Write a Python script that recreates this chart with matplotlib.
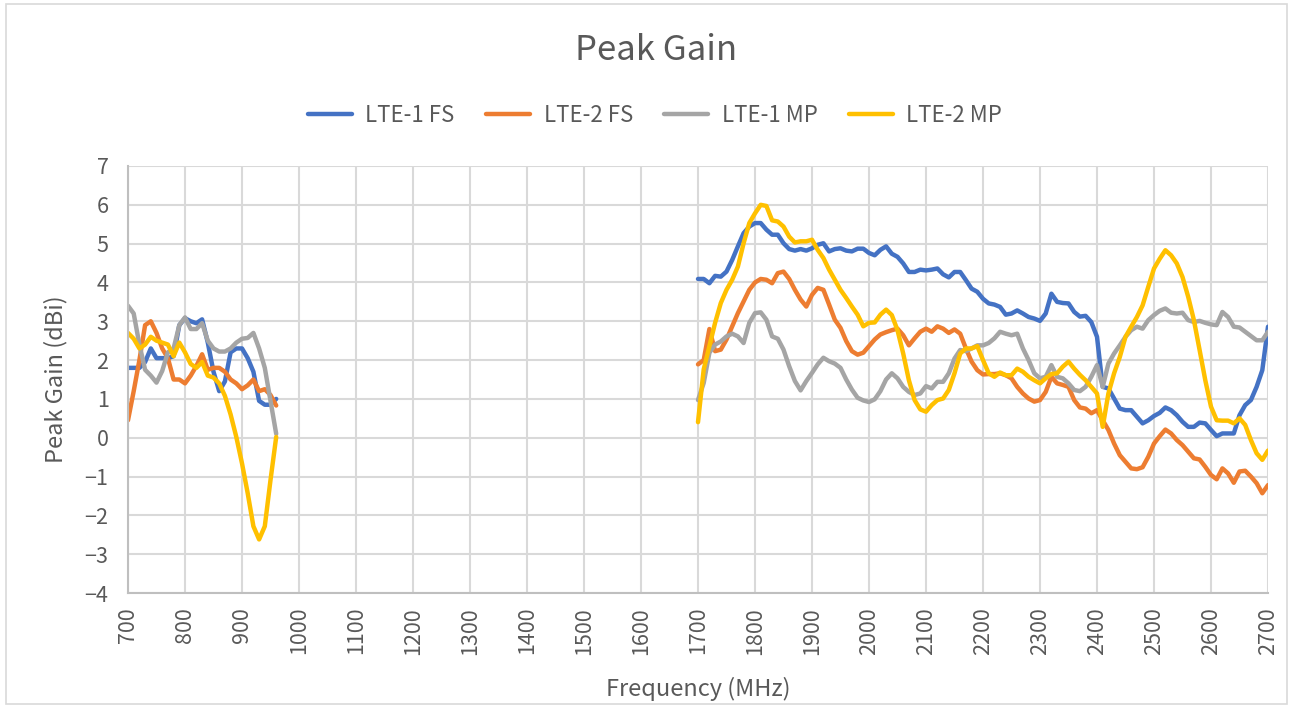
import matplotlib.pyplot as plt
import matplotlib.patches as mpatches
import numpy as np

plt.rcParams['font.family'] = ['Noto Sans CJK SC', 'DejaVu Sans']
plt.rcParams['font.weight'] = 'light'

# frequency grid (MHz)
freq_low = np.arange(700, 961, 10)
freq_high = np.arange(1700, 2701, 10)

# low band 700-960 MHz
lte1_fs_low = [1.80, 1.80, 1.80, 1.95, 2.30, 2.05, 2.05, 2.05, 2.10, 2.90,
               3.08, 3.00, 2.95, 3.05, 2.45, 1.70, 1.20, 1.45, 2.20, 2.30,
               2.30, 2.05, 1.70, 0.95, 0.85, 0.85, 1.00]
lte2_fs_low = [0.45, 1.20, 2.00, 2.90, 3.00, 2.70, 2.30, 2.05, 1.50, 1.50,
               1.40, 1.60, 1.85, 2.15, 1.75, 1.80, 1.80, 1.70, 1.50, 1.40,
               1.25, 1.35, 1.50, 1.20, 1.25, 1.10, 0.83]
lte1_mp_low = [3.40, 3.20, 2.40, 1.75, 1.60, 1.42, 1.72, 2.20, 2.30, 2.90,
               3.10, 2.80, 2.80, 2.95, 2.50, 2.30, 2.22, 2.22, 2.30, 2.45,
               2.55, 2.57, 2.70, 2.30, 1.80, 0.95, 0.10]
lte2_mp_low = [2.70, 2.55, 2.30, 2.40, 2.60, 2.50, 2.45, 2.40, 2.10, 2.45,
               2.20, 1.90, 1.80, 1.95, 1.60, 1.55, 1.40, 1.08, 0.60, 0.02,
               -0.66, -1.43, -2.28, -2.62, -2.28, -1.09, 0.02]

# high band 1700-2700 MHz
lte1_fs_high = [4.09, 4.09, 3.98, 4.17, 4.15, 4.28, 4.58, 4.93, 5.27, 5.44,
                5.53, 5.53, 5.36, 5.23, 5.23, 5.01, 4.86, 4.82, 4.86, 4.82,
                4.88, 4.97, 5.01, 4.80, 4.86, 4.88, 4.82, 4.80, 4.87, 4.87,
                4.76, 4.70, 4.84, 4.93, 4.74, 4.66, 4.49, 4.27, 4.27, 4.33,
                4.31, 4.33, 4.36, 4.21, 4.13, 4.27, 4.27, 4.06, 3.84, 3.76,
                3.58, 3.46, 3.43, 3.37, 3.17, 3.20, 3.28, 3.20, 3.11, 3.07,
                3.01, 3.20, 3.71, 3.50, 3.47, 3.46, 3.24, 3.12, 3.14, 2.98,
                2.60, 1.31, 1.27, 1.01, 0.75, 0.71, 0.71, 0.54, 0.37, 0.45,
                0.56, 0.64, 0.78, 0.71, 0.58, 0.41, 0.28, 0.28, 0.39, 0.37,
                0.20, 0.04, 0.11, 0.11, 0.11, 0.58, 0.84, 0.97, 1.31, 1.74,
                2.86]
lte2_fs_high = [1.89, 2.00, 2.80, 2.23, 2.27, 2.53, 2.87, 3.21, 3.51, 3.81,
                4.00, 4.09, 4.07, 3.98, 4.24, 4.28, 4.09, 3.81, 3.56, 3.38,
                3.68, 3.86, 3.81, 3.43, 3.04, 2.83, 2.49, 2.23, 2.14, 2.19,
                2.36, 2.53, 2.66, 2.72, 2.77, 2.81, 2.64, 2.38, 2.56, 2.73,
                2.81, 2.73, 2.87, 2.81, 2.70, 2.79, 2.68, 2.30, 1.96, 1.74,
                1.63, 1.64, 1.64, 1.66, 1.61, 1.53, 1.31, 1.14, 1.01, 0.93,
                0.97, 1.18, 1.57, 1.40, 1.36, 1.31, 0.97, 0.78, 0.75, 0.63,
                0.71, 0.45, 0.20, -0.15, -0.45, -0.62, -0.79, -0.81, -0.76, -0.49,
                -0.15, 0.04, 0.21, 0.11, -0.06, -0.19, -0.36, -0.53, -0.56, -0.75,
                -0.96, -1.07, -0.79, -0.92, -1.16, -0.87, -0.85, -1.00, -1.17, -1.43,
                -1.22]
lte1_mp_high = [0.97, 1.41, 2.19, 2.40, 2.48, 2.61, 2.68, 2.61, 2.44, 2.96,
                3.21, 3.23, 3.04, 2.61, 2.55, 2.27, 1.84, 1.46, 1.22, 1.46,
                1.67, 1.89, 2.06, 1.97, 1.91, 1.80, 1.50, 1.24, 1.03, 0.96,
                0.92, 0.99, 1.20, 1.50, 1.66, 1.53, 1.31, 1.18, 1.10, 1.14,
                1.33, 1.27, 1.44, 1.44, 1.66, 2.04, 2.26, 2.23, 2.30, 2.38,
                2.38, 2.44, 2.56, 2.73, 2.68, 2.64, 2.68, 2.30, 2.00, 1.66,
                1.53, 1.57, 1.87, 1.57, 1.53, 1.40, 1.23, 1.20, 1.31, 1.57,
                1.87, 1.31, 1.91, 2.17, 2.38, 2.60, 2.77, 2.86, 2.81, 3.03,
                3.16, 3.27, 3.33, 3.22, 3.20, 3.22, 3.03, 2.98, 3.01, 2.96,
                2.92, 2.90, 3.24, 3.11, 2.86, 2.84, 2.73, 2.62, 2.51, 2.51,
                2.73]
lte2_mp_high = [0.40, 1.76, 2.36, 2.96, 3.47, 3.81, 4.07, 4.41, 5.01, 5.53,
                5.78, 6.00, 5.97, 5.60, 5.57, 5.44, 5.18, 5.03, 5.06, 5.06,
                5.10, 4.84, 4.63, 4.33, 4.07, 3.81, 3.60, 3.38, 3.17, 2.87,
                2.96, 2.97, 3.17, 3.30, 3.16, 2.77, 2.17, 1.48, 0.97, 0.73,
                0.67, 0.84, 0.97, 1.01, 1.23, 1.66, 2.17, 2.30, 2.30, 2.36,
                2.00, 1.66, 1.57, 1.68, 1.61, 1.61, 1.78, 1.70, 1.57, 1.48,
                1.40, 1.53, 1.64, 1.66, 1.83, 1.96, 1.78, 1.62, 1.48, 1.31,
                1.14, 0.28, 1.14, 1.66, 2.08, 2.60, 2.86, 3.11, 3.41, 3.89,
                4.36, 4.61, 4.83, 4.70, 4.49, 4.14, 3.63, 3.03, 2.26, 1.48,
                0.80, 0.45, 0.44, 0.44, 0.37, 0.50, 0.33, -0.06, -0.40, -0.57,
                -0.33]

labels = ['LTE-1 FS', 'LTE-2 FS', 'LTE-1 MP', 'LTE-2 MP']
colors = ['#4472C4', '#ED7D31', '#A5A5A5', '#FFC000']
low = [lte1_fs_low, lte2_fs_low, lte1_mp_low, lte2_mp_low]
high = [lte1_fs_high, lte2_fs_high, lte1_mp_high, lte2_mp_high]

fig = plt.figure(figsize=(12.97, 7.07), dpi=100)
fig.patches.append(mpatches.Rectangle((6 / 1297, 3 / 707), 1281 / 1297, 700 / 707,
                                      transform=fig.transFigure, fill=False,
                                      edgecolor='#d9d9d9', lw=1.2))
ax = fig.add_axes([128 / 1297, 1 - 593 / 707, 1140 / 1297, 427 / 707])

for lab, col, lo, hi in zip(labels, colors, low, high):
    ax.plot(freq_low, lo, color=col, lw=3.2, solid_joinstyle='round',
            solid_capstyle='round', label=lab)
    ax.plot(freq_high, hi, color=col, lw=3.2, solid_joinstyle='round',
            solid_capstyle='round')

ax.set_xlim(700, 2700)
ax.set_ylim(-4, 7)
ax.set_xticks(range(700, 2701, 100))
ax.set_yticks(range(-4, 8))
ax.grid(True, color='#d9d9d9', lw=1.5)
ax.set_axisbelow(True)
for s in ['top', 'right']:
    ax.spines[s].set_visible(False)
for s in ['left', 'bottom']:
    ax.spines[s].set_color('#bfbfbf')
    ax.spines[s].set_linewidth(1.5)
ax.tick_params(axis='both', length=0, labelsize=15.5, labelcolor='#595959')
ax.tick_params(axis='x', labelrotation=90, pad=10)
ax.tick_params(axis='y', pad=14)

ax.set_xlabel('Frequency (MHz)', fontsize=17, color='#595959', labelpad=16)
ax.set_ylabel('Peak Gain (dBi)', fontsize=17, color='#595959', labelpad=12)
fig.text(0.506, 1 - 50 / 707, 'Peak Gain', ha='center', va='center',
         fontsize=25, color='#595959')

fig.legend(loc='center', bbox_to_anchor=(0.505, 1 - 115 / 707), ncol=4,
           frameon=False, fontsize=16, handlelength=2.0, handletextpad=0.6,
           columnspacing=1.4, labelcolor='#595959')

plt.savefig('out.png', dpi=100)
